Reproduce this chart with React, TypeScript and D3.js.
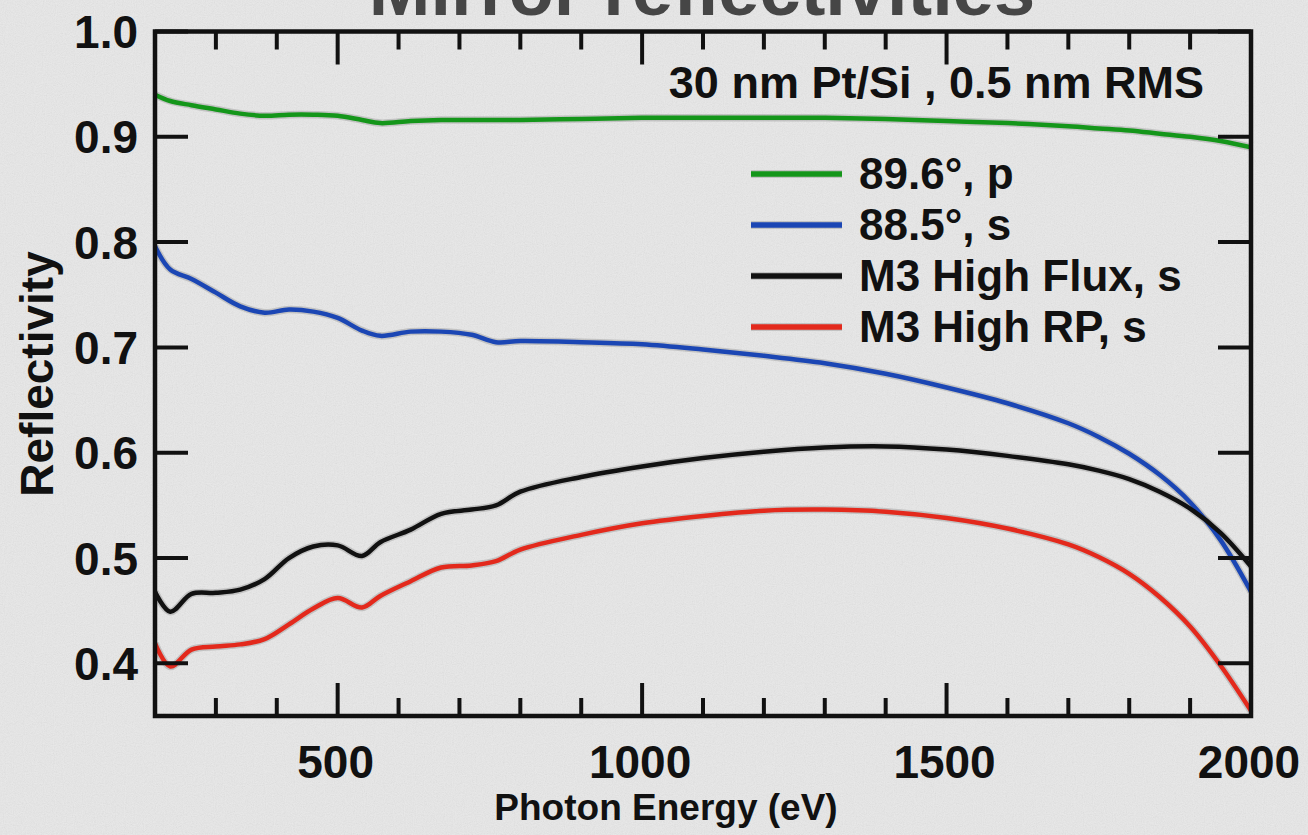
import React from "react";
import * as d3 from "d3";

const energies = [200, 225, 260, 300, 340, 380, 420, 460, 500, 540, 570, 620, 670, 720, 760, 800, 900, 1000, 1100, 1200, 1300, 1400, 1500, 1600, 1700, 1750, 1800, 1850, 1900, 1950, 2000];

const green896p = [0.940, 0.934, 0.930, 0.926, 0.922, 0.920, 0.921, 0.921, 0.920, 0.916, 0.913, 0.915, 0.916, 0.916, 0.916, 0.916, 0.917, 0.918, 0.918, 0.918, 0.918, 0.917, 0.915, 0.913, 0.910, 0.908, 0.906, 0.903, 0.900, 0.896, 0.890];
const blue885s = [0.796, 0.774, 0.765, 0.752, 0.739, 0.733, 0.736, 0.734, 0.728, 0.716, 0.711, 0.715, 0.715, 0.712, 0.705, 0.706, 0.705, 0.703, 0.698, 0.692, 0.685, 0.675, 0.662, 0.647, 0.628, 0.615, 0.599, 0.579, 0.553, 0.517, 0.468];
const blackFlux = [0.468, 0.449, 0.466, 0.467, 0.470, 0.480, 0.500, 0.511, 0.512, 0.502, 0.515, 0.527, 0.542, 0.546, 0.550, 0.563, 0.577, 0.587, 0.595, 0.601, 0.605, 0.606, 0.603, 0.597, 0.589, 0.583, 0.575, 0.563, 0.547, 0.524, 0.492];
const redRP = [0.419, 0.397, 0.413, 0.416, 0.418, 0.423, 0.437, 0.452, 0.462, 0.453, 0.464, 0.478, 0.491, 0.493, 0.497, 0.508, 0.522, 0.533, 0.540, 0.545, 0.546, 0.544, 0.538, 0.528, 0.513, 0.501, 0.485, 0.463, 0.435, 0.398, 0.355];

const seriesNames = ["89.6°, p", "88.5°, s", "M3 High Flux, s", "M3 High RP, s"];
const seriesColors = ["#14961a", "#1b46b4", "#111111", "#e3291c"];
const seriesValues = [green896p, blue885s, blackFlux, redRP];

const xMajorTicks = [500, 1000, 1500, 2000];
const xMinorTicks = [300, 400, 600, 700, 800, 900, 1100, 1200, 1300, 1400, 1600, 1700, 1800, 1900];
const yTicks = [0.4, 0.5, 0.6, 0.7, 0.8, 0.9, 1.0];

const FONT = "'Liberation Sans', Arial, Helvetica, sans-serif";

export default function App() {
  const W = 1308, H = 835;
  const left = 155, right = 1251, top = 31.5, bottom = 716;
  const x = d3.scaleLinear().domain([200, 2000]).range([left, right]);
  const y = d3.scaleLinear().domain([0.35, 1.0]).range([bottom, top]);
  const line = d3
    .line<number>()
    .x((_, i) => x(energies[i]))
    .y((d) => y(d))
    .curve(d3.curveCatmullRom.alpha(0.5));

  const major = 33, minor = 18;

  return (
    <svg width={W} height={H} style={{ position: "absolute", left: 0, top: 0, display: "block" }}>
      <defs>
        <filter id="paper" x="0" y="0" width="100%" height="100%">
          <feTurbulence type="fractalNoise" baseFrequency="0.9" numOctaves={2} seed={3} result="n" />
          <feColorMatrix type="saturate" values="0" in="n" result="g" />
          <feComponentTransfer in="g">
            <feFuncA type="linear" slope={0} intercept={0.12} />
          </feComponentTransfer>
        </filter>
        <clipPath id="plotclip">
          <rect x={left} y={top} width={right - left} height={bottom - top} />
        </clipPath>
      </defs>
      <rect x={0} y={0} width={W} height={H} fill="#e9e9e9" />
      <rect x={0} y={0} width={W} height={H} filter="url(#paper)" />
      <text x={702} y={15} textAnchor="middle" fontFamily={FONT} fontWeight="bold" fontSize={74} fill="#464646">
        Mirror reflectivities
      </text>

      <g clipPath="url(#plotclip)">
        {seriesValues.map((vals, k) => (
          <path key={"h" + k} d={line(vals) || ""} fill="none" stroke="#9a9a9a" strokeOpacity={0.45} strokeWidth={7.5} strokeLinejoin="round" />
        ))}
        {seriesValues.map((vals, k) => (
          <path key={"s" + k} d={line(vals) || ""} fill="none" stroke={seriesColors[k]} strokeWidth={4.5} strokeLinejoin="round" strokeLinecap="round" />
        ))}
      </g>

      <g stroke="#111" strokeWidth={4}>
        {xMajorTicks.map((t) => (
          <g key={"xM" + t}>
            <line x1={x(t)} x2={x(t)} y1={bottom} y2={bottom - major} />
            <line x1={x(t)} x2={x(t)} y1={top} y2={top + major} />
          </g>
        ))}
        {xMinorTicks.map((t) => (
          <g key={"xm" + t}>
            <line x1={x(t)} x2={x(t)} y1={bottom} y2={bottom - minor} />
            <line x1={x(t)} x2={x(t)} y1={top} y2={top + minor} />
          </g>
        ))}
        {yTicks.map((t) => (
          <g key={"y" + t}>
            <line x1={left} x2={left + major} y1={y(t)} y2={y(t)} />
            <line x1={right} x2={right - major} y1={y(t)} y2={y(t)} />
          </g>
        ))}
      </g>
      <rect x={left} y={top} width={right - left} height={bottom - top} fill="none" stroke="#111" strokeWidth={4.5} />

      <g fontFamily={FONT} fontWeight="bold" fontSize={46} fill="#111">
        {yTicks.map((t) => (
          <text key={"yl" + t} x={138} y={y(t) + 16.5} textAnchor="end">
            {d3.format(".1f")(t)}
          </text>
        ))}
        {xMajorTicks.map((t) => (
          <text key={"xl" + t} x={x(t) - 2} y={778} textAnchor="middle">
            {String(t)}
          </text>
        ))}
      </g>

      <text x={666} y={820} textAnchor="middle" fontFamily={FONT} fontWeight="bold" fontSize={37} fill="#111">
        Photon Energy (eV)
      </text>
      <text transform="translate(53,374) rotate(-90)" textAnchor="middle" fontFamily={FONT} fontWeight="bold" fontSize={46} fill="#111">
        Reflectivity
      </text>

      <text x={1204} y={98} textAnchor="end" fontFamily={FONT} fontWeight="bold" fontSize={45} fill="#111">
        30 nm Pt/Si , 0.5 nm RMS
      </text>

      <g fontFamily={FONT} fontWeight="bold" fontSize={44} fill="#111">
        {seriesNames.map((name, k) => {
          const ly = 174 + k * 51;
          return (
            <g key={"lg" + k}>
              <line x1={751} x2={842} y1={ly} y2={ly} stroke="#9a9a9a" strokeOpacity={0.45} strokeWidth={8} />
              <line x1={751} x2={842} y1={ly} y2={ly} stroke={seriesColors[k]} strokeWidth={5.5} />
              <text x={859} y={ly + 15}>{name}</text>
            </g>
          );
        })}
      </g>
    </svg>
  );
}
